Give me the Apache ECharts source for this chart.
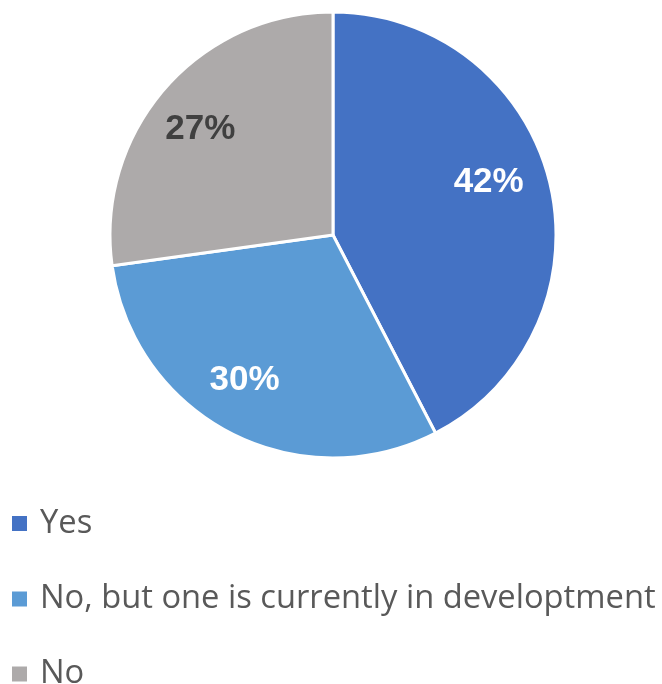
<!DOCTYPE html>
<html>
<head>
<meta charset="utf-8">
<script src="https://cdn.jsdelivr.net/npm/echarts@6/dist/echarts.min.js"></script>
<style>html,body{margin:0;padding:0;background:#fff}#c{width:662px;height:684px}</style>
</head>
<body>
<div id="c"></div>
<script>
const categories = ['Yes', 'No, but one is currently in developtment', 'No'];
const values = [42.4, 30.4, 27.2];
const colors = ['#4472C4', '#5B9BD5', '#ADAAAA'];
const labelColors = ['#FFFFFF', '#FFFFFF', '#404040'];
const labelOffsets = [[-10, -12], [-10, -6], [-4, 6]];
const legendTops = [507, 582.5, 657.5];

const chart = echarts.init(document.getElementById('c'), null, {renderer: 'canvas'});
chart.setOption({
  animation: false,
  backgroundColor: '#ffffff',
  legend: categories.map((n, i) => ({
    orient: 'vertical',
    left: 12,
    top: legendTops[i],
    padding: 0,
    itemWidth: 15,
    itemHeight: 15,
    icon: 'rect',
    itemStyle: {borderWidth: 0},
    data: [n],
    textStyle: {fontFamily: 'Open Sans', fontSize: 32.7, color: '#595959', lineHeight: 32, padding: [0, 0, 0, 8]}
  })),
  series: [{
    type: 'pie',
    center: [333, 235],
    radius: [0, 223],
    startAngle: 90,
    clockwise: true,
    silent: true,
    label: {show: false},
    labelLine: {show: false},
    itemStyle: {borderColor: '#ffffff', borderWidth: 3},
    data: categories.map((n, i) => ({name: n, value: values[i], itemStyle: {color: colors[i]}}))
  }, {
    type: 'pie',
    center: [333, 235],
    radius: [112, 223],
    startAngle: 90,
    clockwise: true,
    silent: true,
    itemStyle: {color: 'rgba(0,0,0,0)', borderWidth: 0},
    label: {
      show: true, position: 'inside',
      fontFamily: 'Liberation Sans', fontWeight: 'bold', fontSize: 35,
      formatter: p => Math.round(p.value) + '%'
    },
    labelLine: {show: false},
    data: categories.map((n, i) => ({
      name: n, value: values[i],
      itemStyle: {color: 'rgba(0,0,0,0)'},
      label: {color: labelColors[i], offset: labelOffsets[i]}
    }))
  }]
});
</script>
</body>
</html>
